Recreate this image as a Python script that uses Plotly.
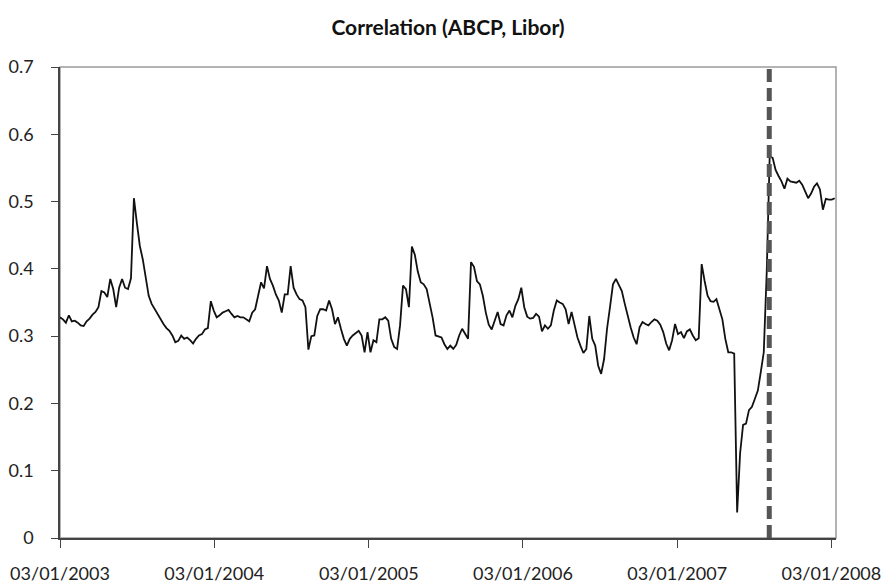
import pandas as pd
import plotly.graph_objs as go

# weekly ABCP / Libor correlation (first obs 03/01/2003)
start_date = "2003-01-03"
correlation = [
    0.328, 0.325, 0.320, 0.331, 0.322, 0.323, 0.320, 0.316, 0.315, 0.322,
    0.326, 0.332, 0.336, 0.343, 0.367, 0.365, 0.358, 0.385, 0.370, 0.343,
    0.372, 0.385, 0.372, 0.370, 0.386, 0.505, 0.468, 0.434, 0.414, 0.387,
    0.360, 0.348, 0.340, 0.333, 0.324, 0.318, 0.312, 0.308, 0.301, 0.291,
    0.293, 0.301, 0.296, 0.298, 0.294, 0.289, 0.296, 0.301, 0.303, 0.310,
    0.312, 0.352, 0.338, 0.328, 0.331, 0.335, 0.337, 0.339, 0.333, 0.328,
    0.330, 0.328, 0.328, 0.325, 0.322, 0.335, 0.340, 0.360, 0.380, 0.371,
    0.404, 0.385, 0.375, 0.362, 0.353, 0.335, 0.362, 0.362, 0.404, 0.372,
    0.362, 0.355, 0.353, 0.343, 0.280, 0.300, 0.301, 0.330, 0.340, 0.340,
    0.338, 0.353, 0.340, 0.318, 0.328, 0.311, 0.296, 0.286, 0.296, 0.301,
    0.305, 0.308, 0.301, 0.276, 0.306, 0.276, 0.294, 0.291, 0.325, 0.325,
    0.328, 0.323, 0.296, 0.284, 0.281, 0.316, 0.375, 0.370, 0.343, 0.433,
    0.421, 0.396, 0.380, 0.377, 0.370, 0.349, 0.328, 0.301, 0.300, 0.298,
    0.288, 0.281, 0.286, 0.281, 0.287, 0.301, 0.311, 0.303, 0.296, 0.410,
    0.403, 0.382, 0.377, 0.360, 0.335, 0.317, 0.310, 0.323, 0.336, 0.318,
    0.316, 0.331, 0.338, 0.328, 0.345, 0.355, 0.372, 0.343, 0.329, 0.326,
    0.327, 0.333, 0.329, 0.307, 0.316, 0.311, 0.316, 0.338, 0.353, 0.350,
    0.348, 0.340, 0.318, 0.336, 0.318, 0.298, 0.286, 0.275, 0.281, 0.330,
    0.296, 0.286, 0.256, 0.244, 0.266, 0.311, 0.343, 0.377, 0.385, 0.377,
    0.367, 0.348, 0.329, 0.313, 0.298, 0.288, 0.313, 0.321, 0.318, 0.316,
    0.321, 0.325, 0.323, 0.317, 0.306, 0.289, 0.279, 0.294, 0.318, 0.303,
    0.306, 0.297, 0.307, 0.310, 0.301, 0.294, 0.297, 0.407, 0.382, 0.360,
    0.352, 0.351, 0.355, 0.340, 0.325, 0.296, 0.276, 0.276, 0.274, 0.038,
    0.126, 0.168, 0.170, 0.190, 0.195, 0.207, 0.219, 0.247, 0.276, 0.395,
    0.567, 0.565, 0.547, 0.538, 0.530, 0.519, 0.534, 0.530, 0.529, 0.528,
    0.531, 0.525, 0.515, 0.505, 0.512, 0.522, 0.527, 0.518, 0.488, 0.504,
    0.503, 0.503, 0.505,
]
dates = pd.date_range(start_date, periods=len(correlation), freq="7D")

tick_dates = ["2003-01-03", "2004-01-03", "2005-01-03", "2006-01-03", "2007-01-03", "2008-01-03"]
tick_labels = ["03/01/2003", "03/01/2004", "03/01/2005", "03/01/2006", "03/01/2007", "03/01/2008"]
y_ticks = [0, 0.1, 0.2, 0.3, 0.4, 0.5, 0.6, 0.7]
y_labels = ["0", "0.1", "0.2", "0.3", "0.4", "0.5", "0.6", "0.7"]
crisis_date = "2007-08-09"

fig = go.Figure()

fig.add_trace(go.Scatter(
    x=dates, y=correlation, mode='lines', line=dict(color='#111111', width=1.8), showlegend=False
))

# crisis marker
fig.add_shape(
    type='line', xref='x', yref='paper', x0=crisis_date, x1=crisis_date, y0=0, y1=1,
    line=dict(color='#555555', width=5, dash='13px,6px'), layer='above'
)
# light frame top / right
fig.add_shape(
    type='rect', xref='paper', yref='paper', x0=0, x1=1, y0=0, y1=1,
    line=dict(color='#9a9a9a', width=1.5), layer='below'
)

font_name = "Lato, Open Sans, sans-serif"
fig.update_layout(
    width=892, height=583,
    margin=dict(l=60, r=56, t=67, b=45),
    paper_bgcolor='white', plot_bgcolor='white',
    font=dict(family=font_name, size=18, color='#222222'),
    title=dict(
        text="<b>Correlation (ABCP, Libor)</b>", x=0.5, xref='paper', xanchor='center',
        y=1 - 28 / 583, yref='container', yanchor='middle',
        font=dict(size=21, family=font_name, color='#111111')
    ),
)

fig.update_xaxes(
    range=["2003-01-03", "2008-01-14"], tickvals=tick_dates, ticktext=tick_labels,
    showgrid=False, zeroline=False, showline=True, linecolor='#444444', linewidth=1.5,
    ticks='outside', ticklen=8, tickcolor='#444444', ticklabelstandoff=11, automargin=False,
)
fig.update_yaxes(
    range=[0, 0.7], tickvals=y_ticks, ticktext=y_labels,
    showgrid=False, zeroline=False, showline=True, linecolor='#444444', linewidth=1.5,
    ticks='outside', ticklen=7, tickcolor='#444444', ticklabelstandoff=14, automargin=False,
)

# drop the default 8px page margin so the figure sits at the window corner
fig.write_html(
    "out.html", config={'displayModeBar': False},
    post_script="document.body.style.margin='0px';"
)
